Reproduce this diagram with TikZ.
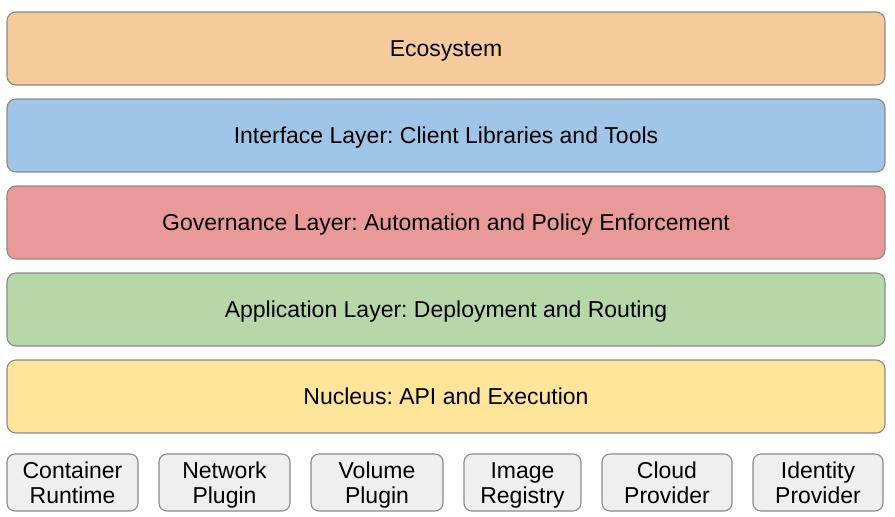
\documentclass[tikz,border=0pt]{standalone}
\usepackage{fontspec}
\setmainfont{Liberation Sans}
\usepackage{xcolor}
\usepackage{tikz}
\usetikzlibrary{positioning}
\frenchspacing

\definecolor{ecocol}{HTML}{F6CB9C}
\definecolor{ifacecol}{HTML}{9FC5E8}
\definecolor{govcol}{HTML}{EA9999}
\definecolor{appcol}{HTML}{B6D7A8}
\definecolor{nuccol}{HTML}{FFE599}
\definecolor{plugcol}{HTML}{EFEFEF}
\definecolor{edgecol}{HTML}{8A8A8A}

% two centred lines, caps of the first one to the baseline of the second
\newcommand{\twolines}[2]{\rule{0pt}{16.5pt}\smash{#1}\\\smash{#2}}

\tikzset{
  layer/.style={draw=edgecol, line width=1.1pt, rounded corners=9pt,
    minimum width=878pt, minimum height=73pt, inner sep=0pt, outer sep=0pt,
    text height=16.5pt, text depth=0pt,
    font=\fontsize{23}{26}\selectfont},
  plugin/.style={draw=edgecol, line width=1.1pt, fill=plugcol, rounded corners=8pt,
    minimum height=57pt, inner sep=0pt, outer sep=0pt, align=center,
    font=\fontsize{23}{25}\selectfont}
}

\begin{document}
\begin{tikzpicture}
\useasboundingbox (0pt,0pt) rectangle (895pt,-517pt);

% layers, top to bottom
\node[layer, fill=ecocol] (eco) at (446pt,-48.5pt) {Ecosystem};
\node[layer, fill=ifacecol, below=14pt of eco] (iface) {Interface Layer: Client Libraries and Tools};
\node[layer, fill=govcol, below=14pt of iface] (gov) {Governance Layer: Automation and Policy Enforcement};
\node[layer, fill=appcol, below=14pt of gov] (app) {Application Layer: Deployment and Routing};
\node[layer, fill=nuccol, below=14pt of app] (nucleus) {Nucleus: API and Execution};

% plugins along the bottom
\node[plugin, minimum width=131pt] (runtime) at (72.5pt,-482.5pt) {\twolines{Container}{Runtime}};
\node[plugin, minimum width=131pt, right=21pt of runtime] (network) {\twolines{Network}{Plugin}};
\node[plugin, minimum width=132pt, right=21pt of network] (volume) {\twolines{Volume}{Plugin}};
\node[plugin, minimum width=117pt, right=21pt of volume] (registry) {\twolines{Image}{Registry}};
\node[plugin, minimum width=130pt, right=21pt of registry] (cloud) {\twolines{Cloud}{Provider}};
\node[plugin, minimum width=130pt, right=21pt of cloud] (identity) {\twolines{Identity}{Provider}};
\end{tikzpicture}
\end{document}
